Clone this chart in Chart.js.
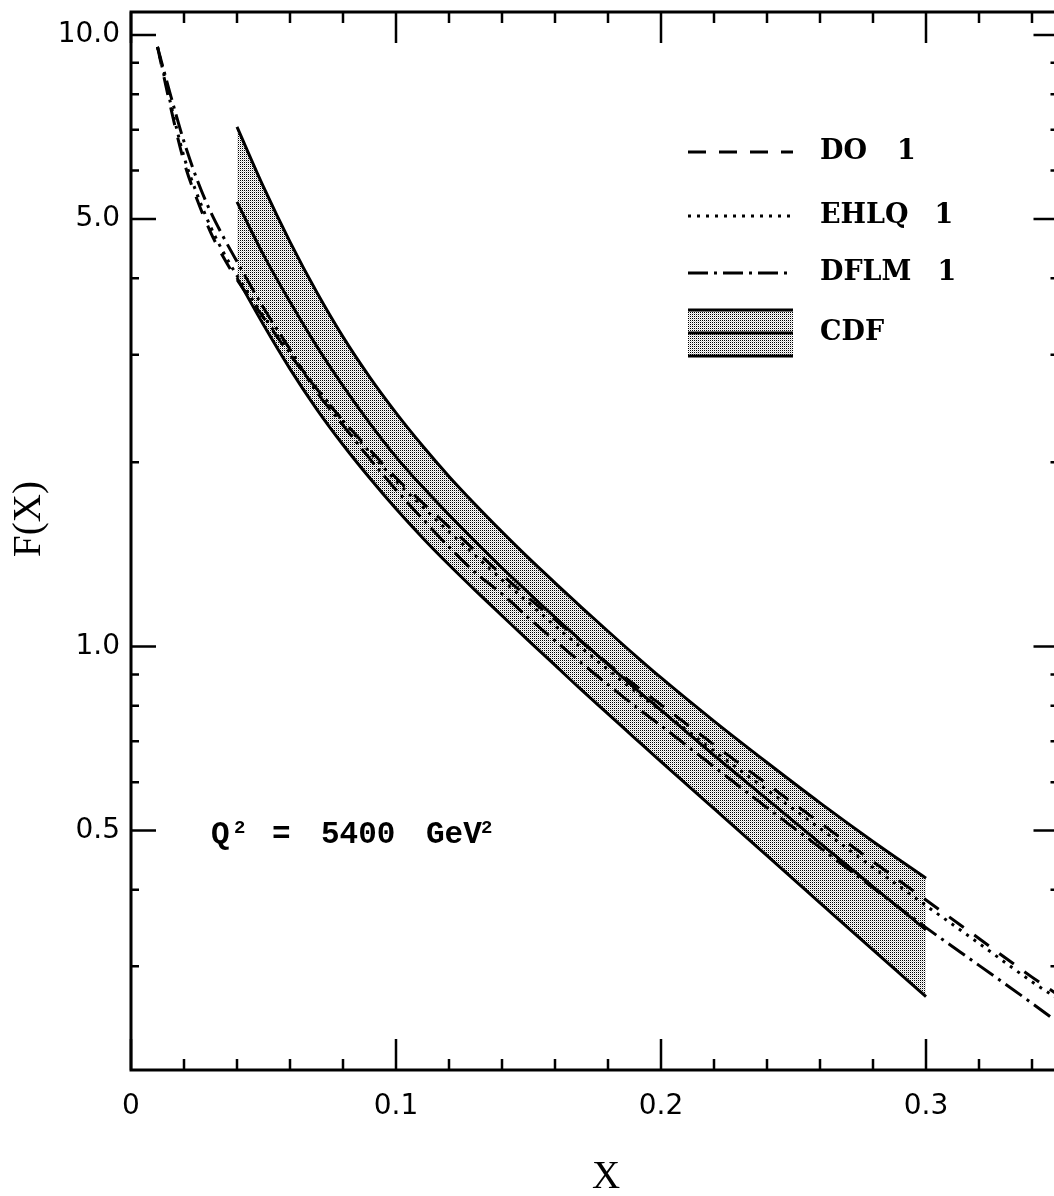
<!DOCTYPE html>
<html>
<head>
<meta charset="utf-8">
<script src="https://cdn.jsdelivr.net/npm/chart.js@4/dist/chart.umd.min.js"></script>
<style>
  html, body { margin: 0; padding: 0; background: #fff; overflow: hidden; }
  #grafica { display: block; }
</style>
</head>
<body>
<canvas id="grafica" width="1064" height="1196"></canvas>
<script>
// Valores: F(X) vs X, Q^2 = 5400 GeV^2

// curvas teoricas
const X_TEORIA = [0.01, 0.015, 0.02, 0.025, 0.03, 0.035, 0.04, 0.05, 0.06, 0.07, 0.08, 0.09, 0.10,
                  0.11, 0.12, 0.13, 0.14, 0.15, 0.16, 0.17, 0.18, 0.19, 0.20, 0.22, 0.24, 0.26,
                  0.28, 0.30, 0.32, 0.34, 0.35];
const DO_1   = [9.56, 7.60, 6.20, 5.37, 4.76, 4.32, 3.98, 3.45, 3.00, 2.64, 2.34, 2.10, 1.887,
                1.718, 1.569, 1.433, 1.310, 1.201, 1.106, 1.018, 0.937, 0.866, 0.803, 0.691, 0.596, 0.515,
                0.445, 0.385, 0.333, 0.288, 0.269];
const EHLQ_1 = [9.56, 7.71, 6.32, 5.48, 4.86, 4.40, 4.04, 3.47, 3.02, 2.65, 2.34, 2.08, 1.866,
                1.692, 1.540, 1.407, 1.285, 1.179, 1.081, 0.995, 0.916, 0.846, 0.785, 0.675, 0.583, 0.504,
                0.435, 0.377, 0.327, 0.283, 0.265];
const DFLM_1 = [9.56, 7.95, 6.69, 5.79, 5.14, 4.66, 4.26, 3.58, 3.06, 2.61, 2.30, 2.03, 1.804,
                1.617, 1.455, 1.320, 1.219, 1.114, 1.022, 0.940, 0.866, 0.800, 0.742, 0.636, 0.545, 0.469,
                0.403, 0.347, 0.301, 0.261, 0.2425];

// banda CDF
const X_CDF   = [0.04, 0.05, 0.06, 0.07, 0.08, 0.09, 0.10, 0.11, 0.12, 0.13, 0.14, 0.15, 0.16, 0.17,
                 0.18, 0.19, 0.20, 0.22, 0.24, 0.26, 0.28, 0.30];
const CDF_SUP = [7.073, 5.642, 4.587, 3.801, 3.208, 2.760, 2.410, 2.129, 1.897, 1.705, 1.540, 1.396,
                 1.271, 1.159, 1.059, 0.969, 0.889, 0.755, 0.646, 0.555, 0.480, 0.418];
const CDF_MED = [5.333, 4.368, 3.660, 3.101, 2.668, 2.321, 2.042, 1.824, 1.642, 1.483, 1.345, 1.224,
                 1.116, 1.020, 0.934, 0.856, 0.787, 0.664, 0.563, 0.477, 0.405, 0.344];
const CDF_INF = [4.006, 3.357, 2.844, 2.447, 2.137, 1.887, 1.679, 1.506, 1.360, 1.234, 1.123, 1.022,
                 0.932, 0.849, 0.776, 0.709, 0.648, 0.543, 0.455, 0.381, 0.319, 0.2675];

// ejes
const X_TICKS = [0, 0.1, 0.2, 0.3];
const X_MENORES = [0.02, 0.04, 0.06, 0.08, 0.12, 0.14, 0.16, 0.18, 0.22, 0.24, 0.26, 0.28, 0.32, 0.34];
const Y_TICKS = [0.5, 1, 5, 10];
const Y_MENORES = [0.3, 0.4, 0.6, 0.7, 0.8, 0.9, 2, 3, 4, 6, 7, 8, 9];

// leyenda
const LEYENDA = ['DO', 'EHLQ', 'DFLM', 'CDF'];
const LEYENDA_NUM = ['1', '1', '1', ''];

const NEGRO = '#000000';
const FUENTE_TICKS = '"DejaVu Sans", sans-serif';

function puntos(xs, ys) {
  return xs.map((x, i) => ({x: x, y: ys[i]}));
}

// trama punteada gris de la banda
function tramaPunteada() {
  const c = document.createElement('canvas');
  c.width = 2; c.height = 2;
  const g = c.getContext('2d');
  g.fillStyle = '#ffffff'; g.fillRect(0, 0, 2, 2);
  g.fillStyle = '#000000'; g.fillRect(0, 0, 1, 1);
  g.fillStyle = '#cccccc'; g.fillRect(1, 1, 1, 1);
  return document.getElementById('grafica').getContext('2d').createPattern(c, 'repeat');
}
const TRAMA = tramaPunteada();

const ESTILOS = [
  {dash: [18, 13]},          // DO 1
  {dash: [3, 6]},            // EHLQ 1
  {dash: [20, 6, 3, 6]},     // DFLM 1
];

const marcoYTicks = {
  id: 'marcoYTicks',
  afterDraw(chart) {
    const {ctx, chartArea: a, scales: {x, y}} = chart;
    ctx.save();
    ctx.strokeStyle = NEGRO;
    ctx.lineWidth = 3;
    ctx.setLineDash([]);
    ctx.strokeRect(a.left, a.top, a.right - a.left, a.bottom - a.top);

    ctx.lineWidth = 2.5;
    ctx.beginPath();
    X_TICKS.concat(X_MENORES).forEach(v => {
      const px = x.getPixelForValue(v);
      const len = X_TICKS.includes(v) ? 31 : 11;
      ctx.moveTo(px, a.bottom); ctx.lineTo(px, a.bottom - len);
      ctx.moveTo(px, a.top);    ctx.lineTo(px, a.top + len);
    });
    Y_TICKS.concat(Y_MENORES).forEach(v => {
      const py = y.getPixelForValue(v);
      const len = Y_TICKS.includes(v) ? 25 : 8;
      ctx.moveTo(a.left, py);  ctx.lineTo(a.left + len, py);
      ctx.moveTo(a.right, py); ctx.lineTo(a.right - len, py);
    });
    ctx.stroke();

    // titulos de ejes
    ctx.fillStyle = NEGRO;
    ctx.textAlign = 'center';
    ctx.textBaseline = 'middle';
    ctx.font = '39px "Liberation Serif", serif';
    ctx.fillText('X', 606, 1178);
    ctx.save();
    ctx.translate(30, 519);
    ctx.rotate(-Math.PI / 2);
    ctx.fillText('F(X)', 0, 0);
    ctx.restore();

    // Q^2 = 5400 GeV^2
    ctx.textAlign = 'left';
    ctx.textBaseline = 'alphabetic';
    ctx.font = 'bold 31px "Liberation Mono", monospace';
    ctx.fillText('Q', 211, 843);
    ctx.fillText('=', 272, 843);
    ctx.fillText('5400', 321, 843);
    ctx.fillText('GeV', 426, 843);
    ctx.font = 'bold 19px "Liberation Mono", monospace';
    ctx.fillText('2', 234, 833);
    ctx.fillText('2', 481, 833);

    // leyenda
    const x0 = 688, x1 = 793, xt = 820;
    const filas = [152, 216, 273];
    ctx.lineWidth = 3;
    ESTILOS.forEach((e, i) => {
      ctx.setLineDash(e.dash);
      ctx.beginPath();
      ctx.moveTo(x0, filas[i]); ctx.lineTo(x1, filas[i]);
      ctx.stroke();
    });
    ctx.setLineDash([]);
    const top = 310, bot = 356, mid = 333;
    ctx.fillStyle = TRAMA;
    ctx.fillRect(x0, top, x1 - x0, bot - top);
    ctx.beginPath();
    [top, mid, bot].forEach(yy => { ctx.moveTo(x0, yy); ctx.lineTo(x1, yy); });
    ctx.stroke();

    ctx.fillStyle = NEGRO;
    ctx.font = 'bold 27px "DejaVu Serif", serif';
    ctx.textBaseline = 'middle';
    const filasTexto = [152, 216, 273, 333];
    LEYENDA.forEach((t, i) => {
      ctx.fillText(t, xt, filasTexto[i]);
      if (LEYENDA_NUM[i]) {
        const w = ctx.measureText(t).width;
        ctx.fillText(LEYENDA_NUM[i], Math.max(xt + w + 26, 897), filasTexto[i]);
      }
    });
    ctx.restore();
  }
};

const lineaTeoria = (label, ys, estilo) => ({
  label: label,
  data: puntos(X_TEORIA, ys),
  borderColor: NEGRO,
  borderWidth: 3,
  borderDash: estilo.dash,
  pointRadius: 0,
  fill: false,
  cubicInterpolationMode: 'monotone',
});

const lineaCdf = (label, ys, relleno) => ({
  label: label,
  data: puntos(X_CDF, ys),
  borderColor: NEGRO,
  borderWidth: 3,
  pointRadius: 0,
  fill: relleno,
  backgroundColor: TRAMA,
  cubicInterpolationMode: 'monotone',
});

new Chart(document.getElementById('grafica'), {
  type: 'line',
  data: {
    datasets: [
      lineaCdf('CDF sup', CDF_SUP, 2),
      lineaCdf('CDF', CDF_MED, false),
      lineaCdf('CDF inf', CDF_INF, false),
      lineaTeoria('DO 1', DO_1, ESTILOS[0]),
      lineaTeoria('EHLQ 1', EHLQ_1, ESTILOS[1]),
      lineaTeoria('DFLM 1', DFLM_1, ESTILOS[2]),
    ]
  },
  options: {
    responsive: false,
    animation: false,
    devicePixelRatio: 1,
    layout: { padding: { top: 12, right: 5.5, left: 0, bottom: 0 } },
    plugins: {
      legend: { display: false },
      tooltip: { enabled: false },
      filler: { drawTime: 'beforeDatasetsDraw' },
    },
    scales: {
      x: {
        type: 'linear',
        min: 0, max: 0.35,
        grid: { display: false, drawTicks: false },
        border: { display: false },
        afterBuildTicks: s => { s.ticks = X_TICKS.map(v => ({value: v})); },
        afterFit: s => { s.height = 126; },
        ticks: {
          color: NEGRO,
          padding: 20,
          maxRotation: 0,
          font: { family: FUENTE_TICKS, size: 28, lineHeight: 1.2 },
          callback: v => v === 0 ? '0' : v.toFixed(1),
        }
      },
      y: {
        type: 'logarithmic',
        min: 0.203, max: 10.9,
        grid: { display: false, drawTicks: false },
        border: { display: false },
        afterBuildTicks: s => { s.ticks = Y_TICKS.map(v => ({value: v})); },
        afterFit: s => { s.width = 131; },
        ticks: {
          color: NEGRO,
          padding: 11,
          font: { family: FUENTE_TICKS, size: 28, lineHeight: 0.04 },
          callback: v => Number(v).toFixed(1),
        }
      }
    }
  },
  plugins: [marcoYTicks]
});
</script>
</body>
</html>
